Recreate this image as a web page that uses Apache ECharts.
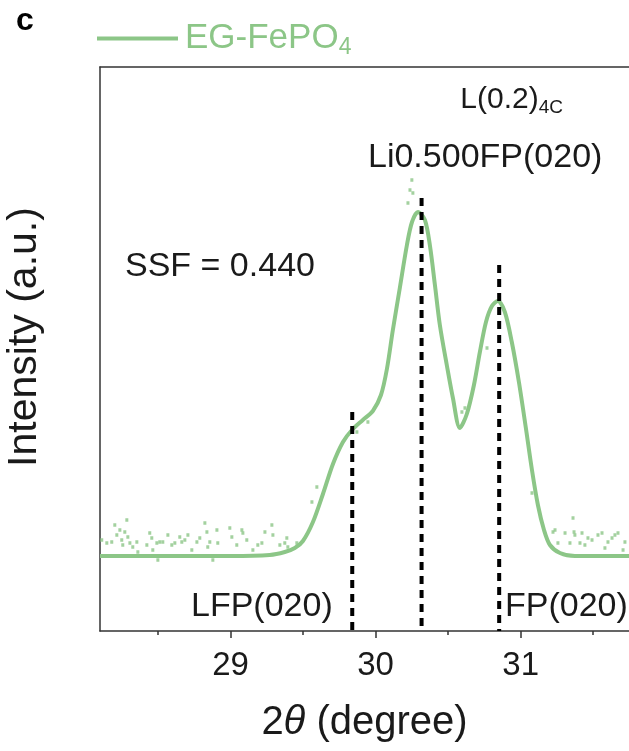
<!DOCTYPE html>
<html><head><meta charset="utf-8">
<script src="https://cdn.jsdelivr.net/npm/echarts@6/dist/echarts.min.js"></script>
<style>html,body{margin:0;padding:0;background:#fff}#c{width:629px;height:751px}</style>
</head><body><div id="c"></div>
<script>
// ---- data (2θ in degree, intensity in a.u.) ----
const fitTheta = [28.10, 28.60, 29.00, 29.27, 29.374, 29.443, 29.499, 29.568, 29.637, 29.706, 29.775, 29.837, 29.912, 29.981, 30.037, 30.078, 30.119, 30.167, 30.216, 30.251, 30.292, 30.340, 30.375, 30.409, 30.443, 30.492, 30.533, 30.581, 30.629, 30.678, 30.719, 30.761, 30.802, 30.843, 30.891, 30.939, 30.988, 31.036, 31.078, 31.119, 31.161, 31.202, 31.271, 31.374, 31.747];
const fitIntensity = [75, 75, 75, 76, 79, 83, 90, 109, 137, 167, 189, 201, 211, 220, 236, 262, 301, 343, 386, 409, 419, 411, 385, 346, 306, 265, 233, 203, 217, 246, 279, 309, 325, 330, 319, 289, 249, 203, 161, 126, 101, 86, 78, 75, 75];

const rawTheta = [28.112, 28.147, 28.181, 28.202, 28.216, 28.237, 28.250, 28.257, 28.271, 28.285, 28.292, 28.306, 28.326, 28.354, 28.361, 28.423, 28.443, 28.457, 28.464, 28.492, 28.499, 28.512, 28.533, 28.568, 28.595, 28.616, 28.650, 28.664, 28.685, 28.706, 28.733, 28.768, 28.788, 28.823, 28.837, 28.843, 28.857, 28.878, 28.906, 28.912, 28.995, 29.009, 29.043, 29.078, 29.085, 29.112, 29.154, 29.188, 29.216, 29.237, 29.285, 29.292, 29.340, 29.374, 29.388, 29.395, 29.457, 29.561, 29.595, 29.871, 29.947, 30.223, 30.237, 30.250, 30.257, 30.595, 30.616, 30.768, 31.078, 31.223, 31.237, 31.257, 31.306, 31.340, 31.361, 31.368, 31.374, 31.409, 31.423, 31.443, 31.464, 31.492, 31.533, 31.561, 31.581, 31.602, 31.630, 31.650, 31.671, 31.706, 31.719];
const rawIntensity = [91, 88, 89, 106, 96, 101, 91, 86, 99, 111, 94, 88, 84, 89, 79, 86, 98, 93, 81, 88, 71, 89, 89, 96, 86, 88, 94, 89, 91, 96, 81, 89, 93, 108, 99, 84, 89, 71, 101, 88, 103, 94, 86, 101, 98, 91, 81, 86, 88, 99, 106, 96, 86, 88, 93, 84, 88, 129, 144, 199, 209, 428, 441, 451, 438, 219, 223, 283, 138, 99, 101, 88, 98, 88, 113, 99, 96, 88, 98, 86, 93, 91, 96, 98, 83, 89, 93, 96, 98, 81, 89];

const peakLabels = ['LFP(020)', 'Li0.500FP(020)', 'FP(020)'];
const peakTheta = [29.839, 30.317, 30.852];
const peakTop = [219, 433, 366];

const xMajorTicks = [29, 30, 31];
const xMinorTicks = [28.5, 29.5, 30.5, 31.5];
const xRange = [28.1, 31.747];
const yRange = [0, 564];

// ---- style ----
const FONT = 'Liberation Sans, Arial, Helvetica, sans-serif';
const GREEN = '#8cc687';
const INK = '#1a1a1a';
const AX = '#333333';

const chart = echarts.init(document.getElementById('c'), null, {renderer: 'canvas'});

const peakSeries = peakTheta.map((t, i) => ({
  type: 'line', name: peakLabels[i], silent: true, symbol: 'none', z: 5,
  data: [[t, peakTop[i]], [t, 0]],
  lineStyle: {color: '#000', width: 4, type: [8, 6]}
}));

chart.setOption({
  animation: false,
  backgroundColor: '#fff',
  grid: {left: 100, right: 0, top: 67, bottom: 120, containLabel: false},
  legend: {
    data: ['EG-FePO4'], left: 92, top: 16, icon: 'rect', itemWidth: 81, itemHeight: 4, itemGap: 0,
    formatter: () => '{a|EG-FePO}{b|4}',
    textStyle: {color: GREEN, fontFamily: FONT, padding: [0, 0, 0, 2],
      rich: {a: {fontSize: 35, color: GREEN, fontFamily: FONT, lineHeight: 42},
             b: {fontSize: 23, color: GREEN, fontFamily: FONT, verticalAlign: 'bottom', lineHeight: 22}}}
  },
  xAxis: [
    {type: 'value', min: xRange[0], max: xRange[1], position: 'bottom',
     axisLine: {show: true, lineStyle: {color: AX, width: 1.5}},
     axisTick: {show: true, customValues: xMajorTicks, length: 7, inside: false, lineStyle: {color: AX, width: 1.5}},
     axisLabel: {show: true, customValues: xMajorTicks, fontSize: 33, fontFamily: FONT, color: INK, margin: 18},
     splitLine: {show: false},
     name: '{n|2}{i|θ}{n| (degree)}', nameLocation: 'middle', nameGap: 72,
     nameTextStyle: {rich: {n: {fontSize: 40, fontFamily: FONT, color: INK}, i: {fontSize: 40, fontFamily: FONT, color: INK, fontStyle: 'italic'}}}
    },
    {type: 'value', min: xRange[0], max: xRange[1], position: 'bottom',
     axisLine: {show: false},
     axisTick: {show: true, customValues: xMinorTicks, length: 4, lineStyle: {color: AX, width: 1.5}},
     axisLabel: {show: false}, splitLine: {show: false}},
    {type: 'value', min: xRange[0], max: xRange[1], position: 'top',
     axisLine: {show: true, lineStyle: {color: AX, width: 1.5}},
     axisTick: {show: false}, axisLabel: {show: false}, splitLine: {show: false}}
  ],
  yAxis: {type: 'value', min: yRange[0], max: yRange[1],
    axisLine: {show: true, lineStyle: {color: AX, width: 1.5}},
    axisTick: {show: false}, axisLabel: {show: false}, splitLine: {show: false}},
  series: [
    {type: 'scatter', name: 'raw', symbol: 'rect', symbolSize: [3, 3.5], silent: true, z: 2,
     itemStyle: {color: GREEN},
     data: rawTheta.map((t, i) => [t, rawIntensity[i]])},
    {type: 'line', name: 'EG-FePO4', smooth: 0.3, showSymbol: false, symbol: 'none', z: 3,
     itemStyle: {color: GREEN},
     lineStyle: {color: GREEN, width: 4},
     data: fitTheta.map((t, i) => [t, fitIntensity[i]])}
  ].concat(peakSeries),
  graphic: [
    {type: 'text', left: 16, top: 5, style: {text: 'c', font: 'bold 32px ' + FONT, fill: '#000'}},
    {type: 'text', x: 25, y: 337, rotation: Math.PI / 2,
     style: {text: 'Intensity (a.u.)', fontSize: 41, fontFamily: FONT, fill: INK, align: 'center', verticalAlign: 'middle'}},
    {type: 'text', x: 563, y: 100,
     style: {text: '{a|L(0.2)}{b|4C}', align: 'right', verticalAlign: 'middle',
       rich: {a: {fontSize: 30, fontFamily: FONT, fill: INK, color: INK, lineHeight: 34},
              b: {fontSize: 19, fontFamily: FONT, fill: INK, color: INK, verticalAlign: 'bottom', lineHeight: 19}}}},
    {type: 'text', x: 368, y: 158,
     style: {text: peakLabels[1], fontSize: 34, fontFamily: FONT, fill: INK, align: 'left', verticalAlign: 'middle'}},
    {type: 'text', x: 125, y: 267,
     style: {text: 'SSF = 0.440', fontSize: 34, fontFamily: FONT, fill: INK, align: 'left', verticalAlign: 'middle'}},
    {type: 'text', x: 191, y: 607,
     style: {text: peakLabels[0], fontSize: 34, fontFamily: FONT, fill: INK, align: 'left', verticalAlign: 'middle'}},
    {type: 'text', x: 505, y: 607,
     style: {text: peakLabels[2], fontSize: 34, fontFamily: FONT, fill: INK, align: 'left', verticalAlign: 'middle'}}
  ]
});
</script></body></html>
